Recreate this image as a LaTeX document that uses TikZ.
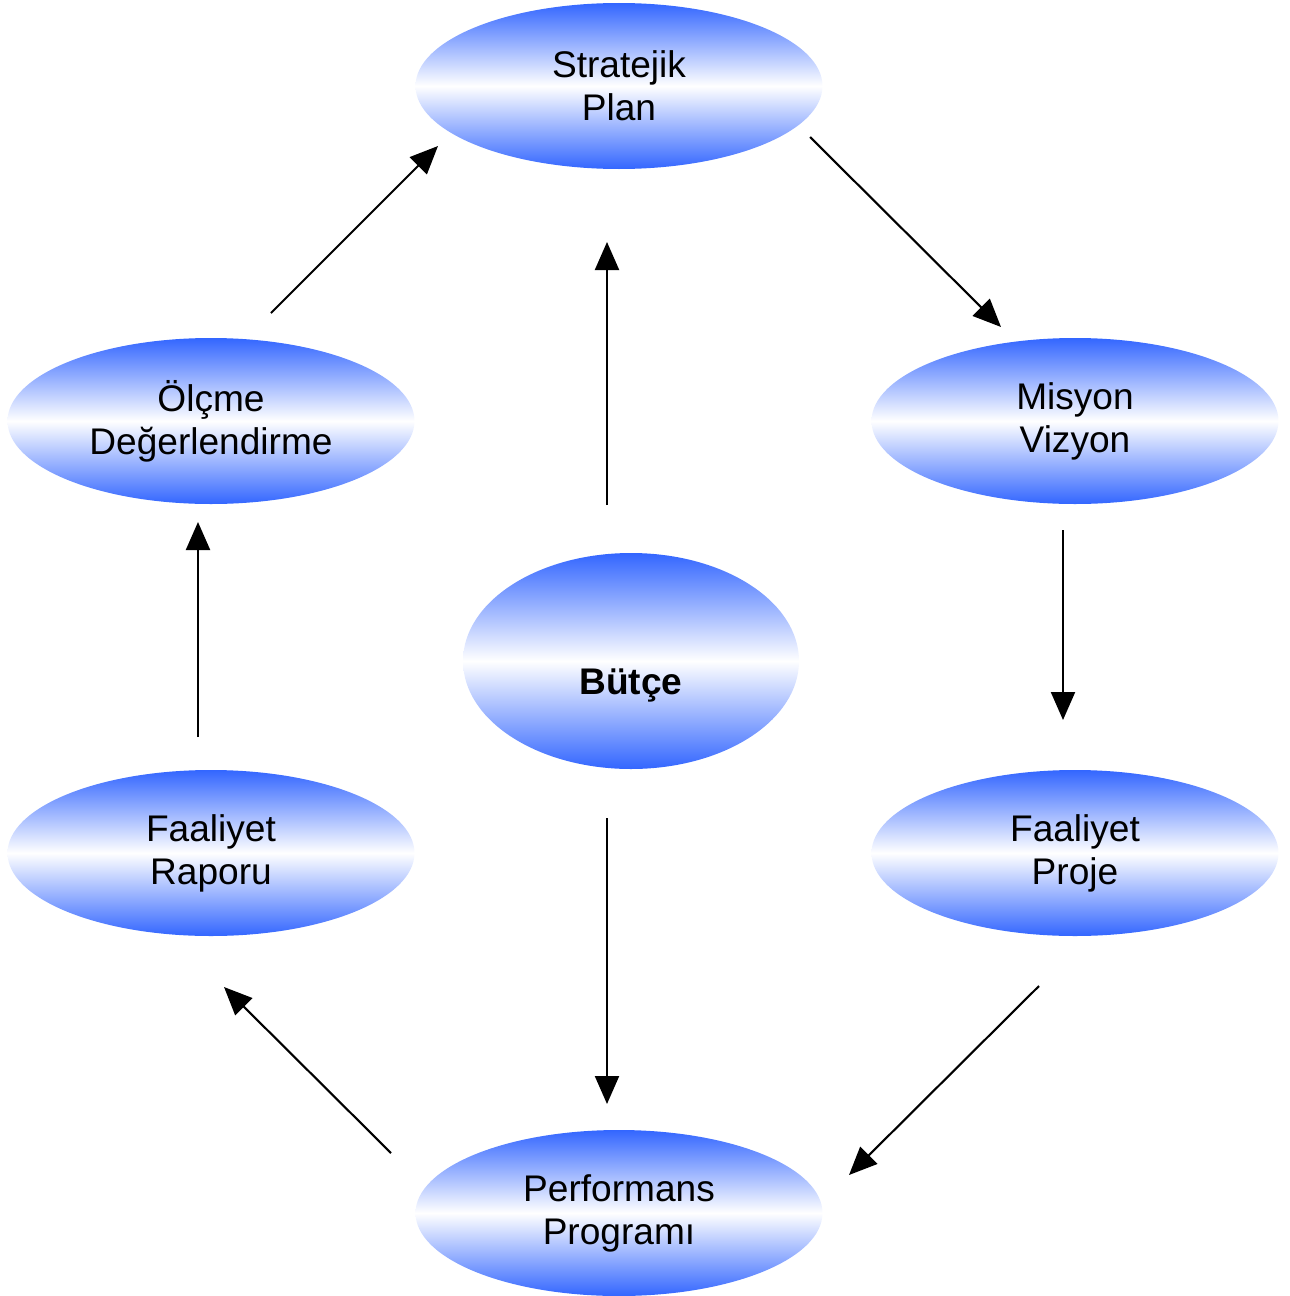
\documentclass[tikz,border=0pt]{standalone}
\usepackage{fontspec}
\setmainfont{Liberation Sans}
\usetikzlibrary{shapes.geometric}
\usetikzlibrary{arrows.meta}

\definecolor{ovalblue}{RGB}{51,102,255}

\begin{document}
\begin{tikzpicture}[
	oval/.style={ellipse, minimum width=4.07cm, minimum height=1.66cm, inner sep=0pt, top color=ovalblue, bottom color=ovalblue, middle color=white, align=center, font=\fontsize{10.55}{12.2}\selectfont},
	flow/.style={-{Triangle[length=0.28cm,width=0.24cm]}, line width=0.6pt}
	]
	
	% page size
	\useasboundingbox (0,0) rectangle (12.89,-12.96);

	% cycle of ovals
	\node[oval] (plan) at (6.19,-0.86) {Stratejik\\Plan};
	\node[oval] (misyon) at (10.75,-4.21) {Misyon\\Vizyon};
	\node[oval] (proje) at (10.75,-8.53) {Faaliyet\\Proje};
	\node[oval] (program) at (6.19,-12.13) {Performans\\Programı};
	\node[oval] (rapor) at (2.11,-8.53) {Faaliyet\\Raporu};
	\node[oval] (olcme) at (2.11,-4.21) {Ölçme\\Değerlendirme};

	% budget in the middle
	\node[oval, minimum width=3.36cm, minimum height=2.16cm] (butce) at (6.31,-6.61) {};
	\node[font=\fontsize{10.55}{12.2}\selectfont\bfseries] (butcelabel) at (6.31,-6.86) {Bütçe};

	% arrow ends
	\coordinate (a1) at (8.10,-1.37); \coordinate (b1) at (10.01,-3.27);
	\coordinate (a2) at (10.63,-5.30); \coordinate (b2) at (10.63,-7.20);
	\coordinate (a3) at (10.39,-9.86); \coordinate (b3) at (8.49,-11.75);
	\coordinate (a4) at (3.91,-11.53); \coordinate (b4) at (2.24,-9.87);
	\coordinate (a5) at (1.98,-7.37); \coordinate (b5) at (1.98,-5.22);
	\coordinate (a6) at (2.71,-3.13); \coordinate (b6) at (4.38,-1.46);
	\coordinate (a7) at (6.07,-5.05); \coordinate (b7) at (6.07,-2.42);
	\coordinate (a8) at (6.07,-8.18); \coordinate (b8) at (6.07,-11.04);

	\foreach \i in {1,...,8} {
		\draw[flow] (a\i) -- (b\i);
	}

\end{tikzpicture}
\end{document}
